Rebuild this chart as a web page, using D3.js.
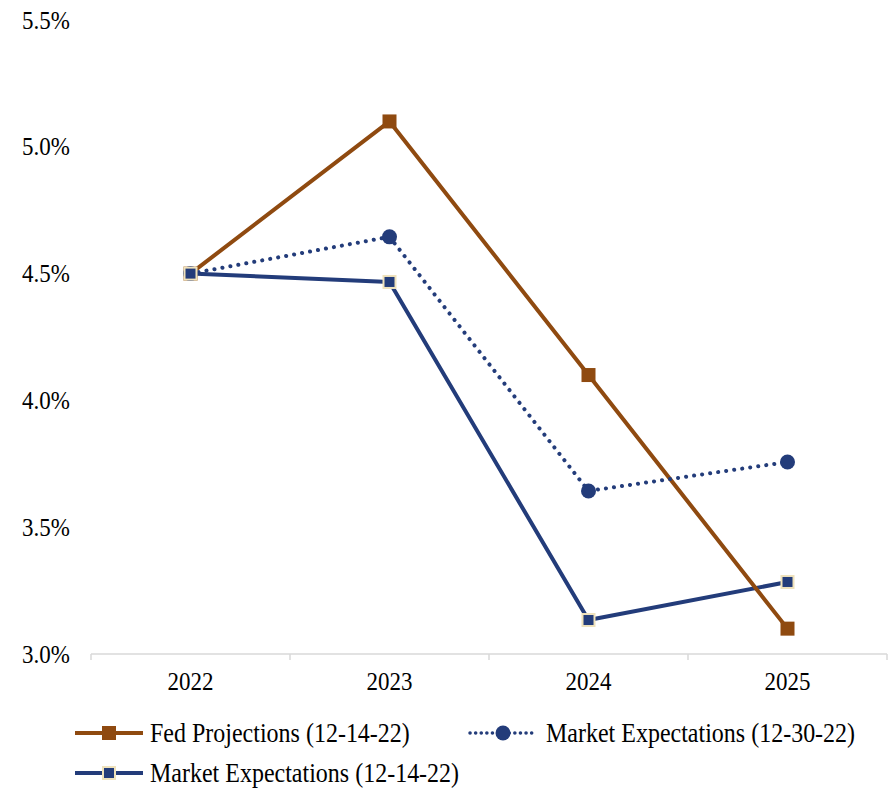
<!DOCTYPE html>
<html>
<head>
<meta charset="utf-8">
<script src="https://cdn.jsdelivr.net/npm/d3@7"></script>
<style>
  html, body { margin: 0; padding: 0; background: #fff; }
  svg text { font-family: "Liberation Serif", "DejaVu Serif", serif; }
</style>
</head>
<body>
<svg id="chart" width="892" height="788"></svg>
<script>
// Years on the x axis
const years = ["2022", "2023", "2024", "2025"];
// Fed funds rate projections and market-implied expectations (%)
const fedProjections = [4.5, 5.1, 4.1, 3.1];
const marketExp1230 = [4.5, 4.645, 3.643, 3.757];
const marketExp1214 = [4.5, 4.467, 3.134, 3.284];
// Y axis tick values (%)
const yTicks = [3.0, 3.5, 4.0, 4.5, 5.0, 5.5];

const FONT = "'Liberation Serif', 'DejaVu Serif', serif";
const STRETCH = 1.12; // text is set slightly tall
const svg = d3.select("#chart");
const brown = "#8F4A10";
const navy = "#233C7A";
const beige = "#EFE2BC";

const x = d3.scaleBand().domain(years).range([91, 887]);
const y = d3.scaleLinear().domain([3.0, 5.5]).range([654, 20]);
const cx = d => x(d) + x.bandwidth() / 2;

// text drawn at the origin, positioned and stretched by a transform
const label = (sel, size, anchor) => sel
  .attr("x", 0).attr("y", 0)
  .attr("text-anchor", anchor)
  .attr("font-family", FONT)
  .attr("font-size", size)
  .attr("fill", "#000");

// Y axis labels only (no axis line)
label(svg.append("g").selectAll("text").data(yTicks).join("text"), 23, "end")
  .attr("transform", d => `translate(70,${y(d) + 8.5}) scale(1,${STRETCH})`)
  .text(d => d.toFixed(1) + "%");

// X axis: light baseline with tick marks between categories
const xAxis = svg.append("g").attr("transform", "translate(0,654)");
xAxis.append("line").attr("x1", 91).attr("x2", 887).attr("y1", 0).attr("y2", 0)
  .attr("stroke", "#d9d9d9").attr("stroke-width", 1.5);
const bounds = years.map(d => x(d)).concat([x(years[years.length - 1]) + x.bandwidth()]);
xAxis.selectAll("line.tick").data(bounds).join("line")
  .attr("class", "tick")
  .attr("x1", d => d).attr("x2", d => d).attr("y1", 0).attr("y2", 6)
  .attr("stroke", "#d9d9d9").attr("stroke-width", 1.5);
label(xAxis.selectAll("text").data(years).join("text"), 23, "middle")
  .attr("transform", d => `translate(${cx(d)},36) scale(1,${STRETCH})`)
  .text(d => d);

const line = d3.line().x((d, i) => cx(years[i])).y(d => y(d));

// Series lines
svg.append("path").datum(marketExp1214).attr("d", line)
  .attr("fill", "none").attr("stroke", navy).attr("stroke-width", 4)
  .attr("stroke-linejoin", "round");
svg.append("path").datum(fedProjections).attr("d", line)
  .attr("fill", "none").attr("stroke", brown).attr("stroke-width", 4)
  .attr("stroke-linejoin", "round");
svg.append("path").datum(marketExp1230).attr("d", line)
  .attr("fill", "none").attr("stroke", navy).attr("stroke-width", 4)
  .attr("stroke-linecap", "round").attr("stroke-dasharray", "0.1 8");

// Markers
const sq = (g, data, size, fill, stroke, sw) => g.selectAll(null).data(data).join("rect")
  .attr("x", (d, i) => cx(years[i]) - size / 2)
  .attr("y", d => y(d) - size / 2)
  .attr("width", size).attr("height", size)
  .attr("fill", fill)
  .attr("stroke", stroke || "none").attr("stroke-width", sw || 0);

const mk = svg.append("g");
sq(mk.append("g"), fedProjections, 14, brown);
mk.append("g").selectAll("circle").data(marketExp1230).join("circle")
  .attr("cx", (d, i) => cx(years[i])).attr("cy", d => y(d)).attr("r", 7.5)
  .attr("fill", navy);
sq(mk.append("g"), marketExp1214, 12, navy, beige, 2);

// Legend
const legend = svg.append("g");
const items = [
  { label: "Fed Projections (12-14-22)", x: 75, y: 733, type: "fed" },
  { label: "Market Expectations (12-30-22)", x: 469, y: 733, type: "m1230" },
  { label: "Market Expectations (12-14-22)", x: 75, y: 773, type: "m1214" }
];
items.forEach(it => {
  const g = legend.append("g").attr("transform", `translate(${it.x},${it.y})`);
  if (it.type === "fed") {
    g.append("line").attr("x1", 0).attr("x2", 68).attr("stroke", brown).attr("stroke-width", 4);
    g.append("rect").attr("x", 27).attr("y", -7).attr("width", 14).attr("height", 14).attr("fill", brown);
  } else if (it.type === "m1230") {
    g.append("line").attr("x1", 1).attr("x2", 67).attr("stroke", navy).attr("stroke-width", 3.5)
      .attr("stroke-linecap", "round").attr("stroke-dasharray", "0.1 5.5");
    g.append("circle").attr("cx", 34).attr("cy", 0).attr("r", 7.5).attr("fill", navy);
  } else {
    g.append("line").attr("x1", 0).attr("x2", 68).attr("stroke", navy).attr("stroke-width", 4);
    g.append("rect").attr("x", 28).attr("y", -6).attr("width", 12).attr("height", 12)
      .attr("fill", navy).attr("stroke", beige).attr("stroke-width", 2);
  }
  label(g.append("text"), 24, "start")
    .attr("transform", `translate(${it.type === "m1230" ? 77 : 75},8.5) scale(1,${STRETCH})`)
    .text(it.label);
});
</script>
</body>
</html>
